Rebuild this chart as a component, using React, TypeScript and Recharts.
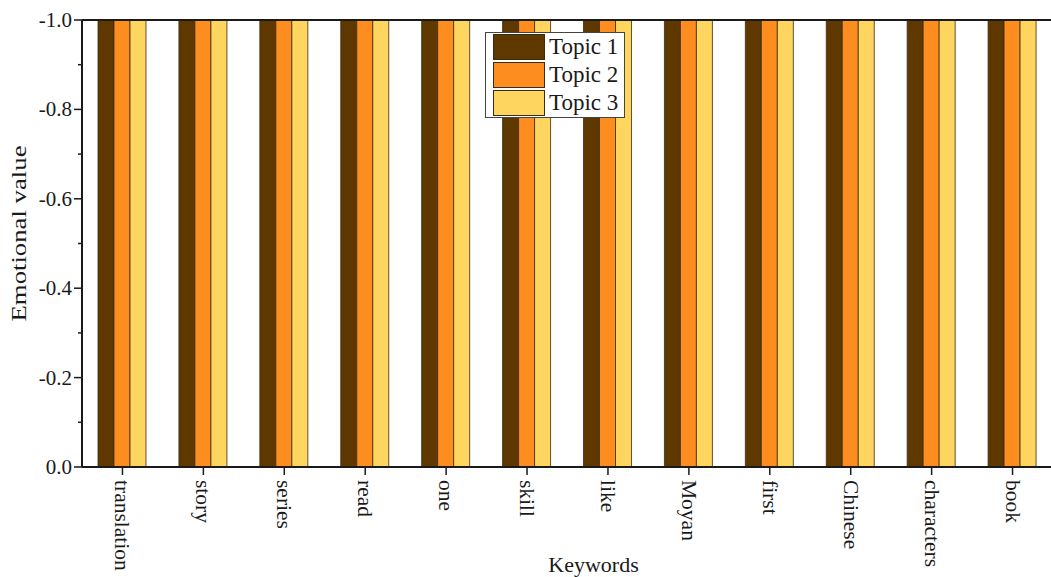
import { BarChart, Bar, XAxis, YAxis, ReferenceLine } from "recharts";

const keywords = [
  "translation",
  "story",
  "series",
  "read",
  "one",
  "skill",
  "like",
  "Moyan",
  "first",
  "Chinese",
  "characters",
  "book",
];
const topic1 = [-1, -1, -1, -1, -1, -1, -1, -1, -1, -1, -1, -1];
const topic2 = [-1, -1, -1, -1, -1, -1, -1, -1, -1, -1, -1, -1];
const topic3 = [-1, -1, -1, -1, -1, -1, -1, -1, -1, -1, -1, -1];
const yTicks = [-1.0, -0.9, -0.8, -0.7, -0.6, -0.5, -0.4, -0.3, -0.2, -0.1, 0.0];
const seriesNames = ["Topic 1", "Topic 2", "Topic 3"];
const colors = ["#5f3800", "#fd8d1e", "#fed55e"];

const FONT = "'Liberation Serif', 'Times New Roman', serif";
const INK = "#1a1a1a";

const data = keywords.map((k, i) => ({
  keyword: k,
  t1: topic1[i],
  t2: topic2[i],
  t3: topic3[i],
}));

function YTick(props: any) {
  const { x, y, payload } = props;
  const v = payload.value as number;
  const major = Math.round(Math.abs(v) * 10) % 2 === 0;
  return (
    <g>
      <line x1={x - (major ? 8 : 4)} x2={x} y1={y} y2={y} stroke={INK} strokeWidth={1.5} />
      {major && (
        <text x={x - 10} y={y} textAnchor="end" dominantBaseline="central" fontFamily={FONT} fontSize={21} fill={INK}>
          {v.toFixed(1)}
        </text>
      )}
    </g>
  );
}

function XTick(props: any) {
  const { x, y, payload } = props;
  return (
    <g>
      <line x1={x} x2={x} y1={y} y2={y + 8} stroke={INK} strokeWidth={1.5} />
      <text
        x={x}
        y={y + 13}
        transform={`rotate(90 ${x} ${y + 13})`}
        textAnchor="start"
        dominantBaseline="central"
        fontFamily={FONT}
        fontSize={21.5}
        fill={INK}
      >
        {payload.value}
      </text>
    </g>
  );
}

function LegendBox() {
  return (
    <div
      style={{
        position: "absolute",
        left: 485,
        top: 32,
        border: "1px solid #444",
        background: "#fff",
        padding: "0px 6px 0px 7px",
        fontFamily: FONT,
        fontSize: 23,
        color: INK,
        lineHeight: "26px",
      }}
    >
      {seriesNames.map((name, i) => (
        <div key={name} style={{ display: "flex", alignItems: "center", height: 28 }}>
          <span
            style={{
              display: "inline-block",
              width: 50,
              height: 24,
              background: colors[i],
              border: "1px solid #3b2a14",
              marginRight: 4,
            }}
          />
          <span>{name}</span>
        </div>
      ))}
    </div>
  );
}

export default function App() {
  return (
    <div style={{ position: "absolute", left: 0, top: 0, width: 1051, height: 577, background: "#fff", overflow: "hidden" }}>
      <BarChart
        width={1051}
        height={577}
        data={data}
        margin={{ top: 20, right: -2, bottom: 0, left: 0 }}
        barCategoryGap={16}
        barGap={0}
      >
        <XAxis
          dataKey="keyword"
          height={110}
          tickSize={0}
          tickMargin={0}
          tick={<XTick />}
          interval={0}
          axisLine={{ stroke: INK, strokeWidth: 2 }}
          tickLine={false}
          label={{
            content: (p: any) => {
              const vb = p.viewBox;
              return (
                <text x={vb.x + vb.width / 2 + 26} y={vb.y + vb.height - 5} textAnchor="middle" fontFamily={FONT} fontSize={22} fill={INK}>
                  Keywords
                </text>
              );
            },
          }}
        />
        <YAxis
          width={82}
          domain={[-1, 0]}
          reversed
          ticks={yTicks}
          interval={0}
          tickSize={0}
          tickMargin={0}
          tick={<YTick />}
          tickLine={false}
          axisLine={{ stroke: INK, strokeWidth: 2 }}
          label={{
            content: (p: any) => {
              const vb = p.viewBox;
              const cx = 18;
              const cy = vb.y + vb.height / 2 - 10;
              return (
                <text
                  x={cx}
                  y={cy}
                  transform={`rotate(-90 ${cx} ${cy})`}
                  textAnchor="middle"
                  dominantBaseline="central"
                  fontFamily={FONT}
                  fontSize={22}
                  textLength={176}
                  lengthAdjust="spacingAndGlyphs"
                  fill={INK}
                >
                  Emotional value
                </text>
              );
            },
          }}
        />
        <ReferenceLine y={-1} stroke={INK} strokeWidth={2} />
        <Bar dataKey="t1" name={seriesNames[0]} fill={colors[0]} stroke="#3b2a14" strokeWidth={0.8} isAnimationActive={false} />
        <Bar dataKey="t2" name={seriesNames[1]} fill={colors[1]} stroke="#3b2a14" strokeWidth={0.8} isAnimationActive={false} />
        <Bar dataKey="t3" name={seriesNames[2]} fill={colors[2]} stroke="#3b2a14" strokeWidth={0.8} isAnimationActive={false} />
      </BarChart>
      <LegendBox />
    </div>
  );
}
